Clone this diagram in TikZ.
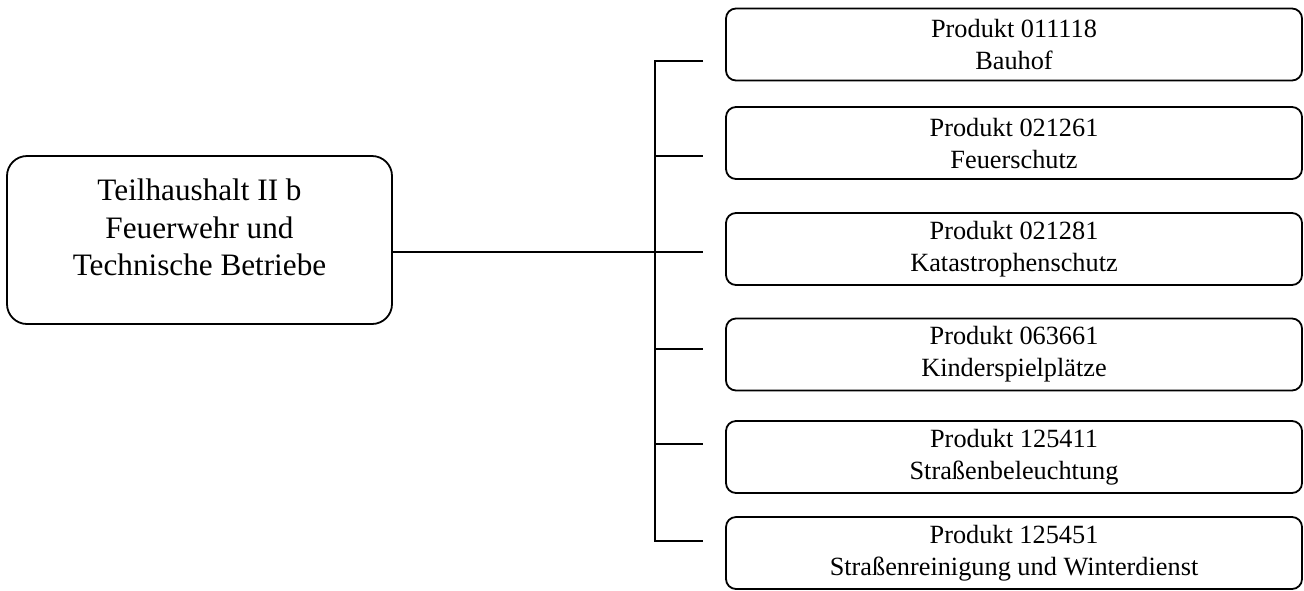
\documentclass[tikz,border=0pt]{standalone}
\usepackage{fontspec}
\setmainfont{Liberation Serif}
\usepackage{tikz}

\begin{document}
\begin{tikzpicture}[x=0.5pt, y=-0.5pt,
    prod/.style={draw=black, line width=0.9pt, rounded corners=5pt, minimum width=288pt, minimum height=36pt, inner sep=0pt, align=center, font=\fontsize{13.15}{16}\selectfont},
    haupt/.style={draw=black, line width=0.9pt, rounded corners=10pt, minimum width=192.5pt, minimum height=84pt, inner sep=0pt, align=center, font=\fontsize{15.6}{18.75}\selectfont},
    conn/.style={line width=0.75pt}]
    \useasboundingbox (0,0) rectangle (1304,590);
    \node[haupt] (T) at (199.5,240) {Teilhaushalt II b\\Feuerwehr und\\Technische Betriebe\\[-6pt]\mbox{}};
    \node[prod] (P1) at (1014,44.5) {Produkt 011118\\Bauhof};
    \node[prod] (P2) at (1014,143) {Produkt 021261\\Feuerschutz};
    \node[prod] (P3) at (1014,249) {Produkt 021281\\Katastrophenschutz};
    \node[prod] (P4) at (1014,354.5) {Produkt 063661\\Kinderspielplätze};
    \node[prod] (P5) at (1014,457) {Produkt 125411\\Straßenbeleuchtung};
    \node[prod] (P6) at (1014,553) {Produkt 125451\\Straßenreinigung und Winterdienst};
    \coordinate (J1) at (655,61);
    \coordinate (J2) at (655,156);
    \coordinate (J3) at (655,252);
    \coordinate (J4) at (655,349);
    \coordinate (J5) at (655,444);
    \coordinate (J6) at (655,541);
    \coordinate (E1) at (703,61);
    \coordinate (E2) at (703,156);
    \coordinate (E3) at (703,252);
    \coordinate (E4) at (703,349);
    \coordinate (E5) at (703,444);
    \coordinate (E6) at (703,541);
    \draw [conn] (E1) -- (J1) -- (J6) -- (E6);
    \draw [conn] (T.east |- E3) -- (E3);
    \path [conn] (J2) edge (E2);
    \path [conn] (J4) edge (E4);
    \path [conn] (J5) edge (E5);
\end{tikzpicture}
\end{document}
